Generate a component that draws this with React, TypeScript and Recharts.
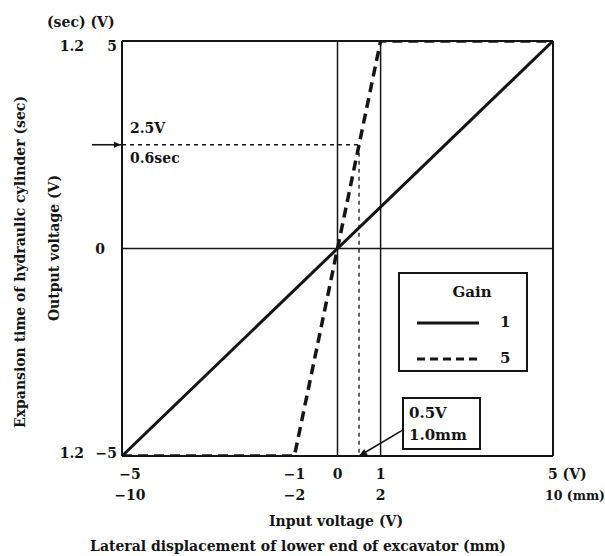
import React from 'react';
import { ComposedChart, Line, XAxis, YAxis, ReferenceLine, ReferenceDot, Legend } from 'recharts';

// ---- data ----
const gain1Input = [-5, 5];
const gain1Output = [-5, 5];
const gain5Input = [-5, -1, 1, 5];
const gain5Output = [-5, -5, 5, 5];
const seriesNames = ['1', '5'];
const xTicksV = [-5, -1, 0, 1, 5];
const xTickLabelsV = ['−5', '−1', '0', '1', '5 (V)'];
const xTickLabelsMm = ['−10', '−2', '', '2', '10 (mm)'];
const yTicksV = [-5, 0, 5];
const yTickLabelsV = ['−5', '0', '5'];
const yTickLabelsSec = ['1.2', '', '1.2'];
const markerInputV = 0.5;
const markerOutputV = 2.5;
const calloutFromX = 1.52;
const calloutFromY = -4.37;

const gain1Data = gain1Input.map((x, i) => ({ x, y: gain1Output[i] }));
const gain5Data = gain5Input.map((x, i) => ({ x, y: gain5Output[i] }));

const FONT = '"DejaVu Serif", "Liberation Serif", serif';
const INK = '#151515';

const XTick = (props: any) => {
  const { x, y, payload } = props;
  const i = xTicksV.indexOf(payload.value);
  const isLast = i === xTicksV.length - 1;
  const isFirst = i === 0;
  const dx = isFirst ? 8 : 0;
  const anchor = isLast ? 'start' : 'middle';
  return (
    <g fontFamily={FONT} fontWeight="bold" fontSize={14} fill={INK}>
      <text x={isLast ? x - 5 : x + dx} y={y + 15} textAnchor={anchor}>{xTickLabelsV[i]}</text>
      {isLast ? (
        <text x={x - 8} y={y + 36} textAnchor="start" fontSize={12.5}>{xTickLabelsMm[i]}</text>
      ) : (
        <text x={x + dx} y={y + 36} textAnchor={anchor}>{xTickLabelsMm[i]}</text>
      )}
    </g>
  );
};

const YTick = (props: any) => {
  const { y, payload } = props;
  const i = yTicksV.indexOf(payload.value);
  const dy = payload.value === 5 ? 5 : payload.value === -5 ? -3 : 0;
  return (
    <g fontFamily={FONT} fontWeight="bold" fontSize={14} fill={INK}>
      <text x={84} y={y + dy + 5} textAnchor="end">{yTickLabelsSec[i]}</text>
      <text x={payload.value === 0 ? 105 : 117} y={y + dy + 5} textAnchor="end">{yTickLabelsV[i]}</text>
    </g>
  );
};

const LeftMarker = (props: any) => {
  const { cx, cy } = props;
  return (
    <g>
      <line x1={cx - 30} y1={cy} x2={cx} y2={cy} stroke={INK} strokeWidth={1.6} />
      <polygon points={`${cx - 1},${cy} ${cx - 8},${cy - 3} ${cx - 8},${cy + 3}`} fill={INK} />
    </g>
  );
};

const CalloutArrow = (props: any) => {
  const { x1, y1, x2, y2 } = props;
  const ang = Math.atan2(y2 - y1, x2 - x1);
  const L = 8, W = 3.5;
  const bx = x2 - L * Math.cos(ang), by = y2 - L * Math.sin(ang);
  const px = -Math.sin(ang) * W, py = Math.cos(ang) * W;
  return (
    <g>
      <line x1={x1} y1={y1} x2={x2} y2={y2} stroke={INK} strokeWidth={1.6} />
      <polygon points={`${x2},${y2} ${bx + px},${by + py} ${bx - px},${by - py}`} fill={INK} />
    </g>
  );
};

const LegendBox = (props: any) => {
  const payload = props.payload || [];
  return (
    <div style={{ width: 130, height: 100, border: `2px solid ${INK}`, boxSizing: 'border-box', background: '#fff', position: 'relative', fontFamily: FONT, fontWeight: 'bold', fontSize: 15, color: INK }}>
      <div style={{ position: 'absolute', top: 9, left: 0, width: '100%', textAlign: 'center', paddingLeft: 18, boxSizing: 'border-box' }}>Gain</div>
      {payload.map((entry: any, k: number) => (
        <div key={k} style={{ position: 'absolute', left: 0, top: 38 + k * 36, width: '100%', height: 22 }}>
          <svg width={90} height={22} style={{ position: 'absolute', left: 0, top: 0 }}>
            <line x1={17} y1={11} x2={79} y2={11} stroke={INK} strokeWidth={3} strokeDasharray={k === 1 ? '8 5' : undefined} />
          </svg>
          <span style={{ position: 'absolute', left: 100, top: 1 }}>{entry.value}</span>
        </div>
      ))}
    </div>
  );
};

export default function App() {
  return (
    <div style={{ position: 'absolute', left: 0, top: 0, width: 605, height: 556, background: '#fff' }}>
      <ComposedChart width={605} height={556} margin={{ top: 41, right: 52, bottom: 0, left: 0 }}>
        <XAxis type="number" dataKey="x" domain={[-5, 5]} ticks={xTicksV} tick={<XTick />} tickLine={false} axisLine={{ stroke: INK, strokeWidth: 2 }} height={100} allowDataOverflow />
        <YAxis type="number" dataKey="y" domain={[-5, 5]} ticks={yTicksV} tick={<YTick />} tickLine={false} axisLine={{ stroke: INK, strokeWidth: 2 }} width={122} allowDataOverflow />
        <ReferenceLine y={5} stroke={INK} strokeWidth={2} />
        <ReferenceLine x={5} stroke={INK} strokeWidth={2} />
        <ReferenceLine x={0} stroke={INK} strokeWidth={1.5} />
        <ReferenceLine x={1} stroke={INK} strokeWidth={1.5} />
        <ReferenceLine y={0} stroke={INK} strokeWidth={1.5} />
        <ReferenceLine segment={[{ x: -5, y: markerOutputV }, { x: markerInputV, y: markerOutputV }]} stroke={INK} strokeWidth={1.3} strokeDasharray="4 4" />
        <ReferenceLine segment={[{ x: markerInputV, y: markerOutputV }, { x: markerInputV, y: -5 }]} stroke={INK} strokeWidth={1.3} strokeDasharray="4 4" />
        <ReferenceDot x={-5} y={markerOutputV} r={0} shape={<LeftMarker />} ifOverflow="visible" />
        <ReferenceLine segment={[{ x: calloutFromX, y: calloutFromY }, { x: markerInputV, y: -5 }]} shape={<CalloutArrow />} />
        <Line data={gain1Data} dataKey="y" name={seriesNames[0]} stroke={INK} strokeWidth={3} dot={false} isAnimationActive={false} />
        <Line data={gain5Data} dataKey="y" name={seriesNames[1]} stroke={INK} strokeWidth={3.5} strokeDasharray="10 6" dot={false} isAnimationActive={false} />
        <Legend content={<LegendBox />} layout="horizontal" verticalAlign="middle" align="center" wrapperStyle={{ position: 'absolute', left: 398, top: 272, width: 130, height: 100 }} />
      </ComposedChart>
      <svg width={605} height={556} style={{ position: 'absolute', left: 0, top: 0, pointerEvents: 'none' }} fontFamily={FONT} fontWeight="bold" fill={INK}>
        <text x={47} y={27} fontSize={14}>(sec) (V)</text>
        <text x={130} y={133} fontSize={14}>2.5V</text>
        <text x={130} y={163} fontSize={14}>0.6sec</text>
        <text transform="translate(25,262) rotate(-90)" textAnchor="middle" fontSize={14}>Expansion time of hydraulic cylinder (sec)</text>
        <text transform="translate(59,248) rotate(-90)" textAnchor="middle" fontSize={14}>Output voltage (V)</text>
        <text x={336} y={526} textAnchor="middle" fontSize={14}>Input voltage (V)</text>
        <text x={298} y={551} textAnchor="middle" fontSize={14}>Lateral displacement of lower end of excavator (mm)</text>
        <rect x={403} y={398} width={77} height={51} fill="#fff" stroke={INK} strokeWidth={2} />
        <text x={409} y={418} fontSize={15}>0.5V</text>
        <text x={409} y={440} fontSize={15}>1.0mm</text>
      </svg>
    </div>
  );
}
